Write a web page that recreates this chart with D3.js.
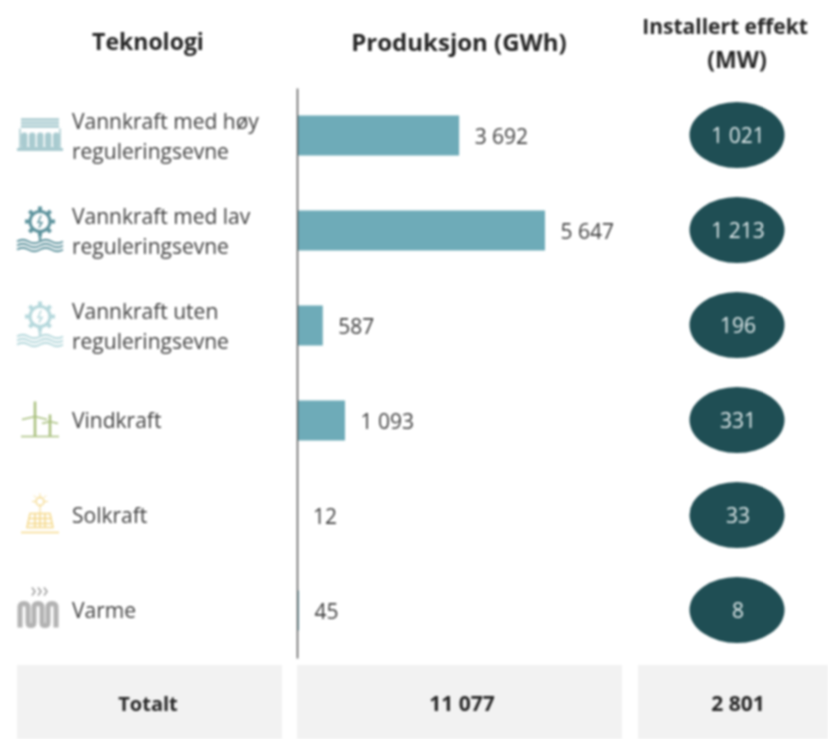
<!DOCTYPE html>
<html>
<head>
<meta charset="utf-8">
<script src="https://d3js.org/d3.v7.min.js"></script>
<style>
  body { margin: 0; background: #fff; }
  svg { display: block; filter: blur(1.1px); }
  text { font-family: "Open Sans", sans-serif; }
</style>
</head>
<body>
<div id="chart"></div>
<script>
// 1. Data
const technologies = [
  ["Vannkraft med høy", "reguleringsevne"],
  ["Vannkraft med lav", "reguleringsevne"],
  ["Vannkraft uten", "reguleringsevne"],
  ["Vindkraft"],
  ["Solkraft"],
  ["Varme"],
]
const production = [3692, 5647, 587, 1093, 12, 45]
const capacity = [1021, 1213, 196, 331, 33, 8]
const iconTypes = ["dam", "gear", "gear", "wind", "sun", "heat"]
const iconColours = ["#a9cbd0", "#5f949e", "#b5d8dc", "#a9c07f", "#f5d98c", "#9a9a9a"]
const totals = ["Totalt", "11 077", "2 801"]

// 2. Dimensions
const width = 828
const height = 739
const fmt = v => d3.format(",")(v).replace(/,/g, " ")

const wrapper = d3.select("#chart").append("svg")
  .attr("width", width)
  .attr("height", height)

const yScale = d3.scaleBand()
  .domain(d3.range(technologies.length))
  .range([88, 658])

const xScale = d3.scaleLinear()
  .domain([0, d3.max(production)])
  .range([297, 545])

const cy = i => yScale(i) + yScale.bandwidth() / 2

// 3. Headers
const headers = wrapper.append("g")
  .attr("font-weight", 700)
  .attr("fill", "#262626")
  .attr("text-anchor", "middle")
headers.append("text").attr("x", 148).attr("y", 50).attr("font-size", 23).text("Teknologi")
headers.append("text").attr("x", 459).attr("y", 51).attr("font-size", 24).text("Produksjon (GWh)")
headers.append("text").attr("x", 725).attr("y", 34).attr("font-size", 21).text("Installert effekt")
headers.append("text").attr("x", 737).attr("y", 68).attr("font-size", 23).text("(MW)")

// 4. Bars
const rows = wrapper.selectAll("g.row")
  .data(production)
  .enter().append("g")
    .attr("class", "row")

rows.append("rect")
  .attr("x", xScale(0))
  .attr("y", (d, i) => cy(i) - 20)
  .attr("width", d => xScale(d) - xScale(0))
  .attr("height", 40)
  .attr("fill", "#6eabb8")

rows.append("text")
  .attr("x", d => xScale(d) + 15.5)
  .attr("y", (d, i) => cy(i) + 8)
  .attr("font-size", 21)
  .attr("fill", "#404040")
  .text(fmt)

// axis line
const yAxis = d3.axisLeft(yScale).tickValues([]).tickSize(0).tickSizeOuter(0)
wrapper.append("g")
  .attr("transform", `translate(${xScale(0)},0)`)
  .call(yAxis)
  .select(".domain")
    .attr("stroke", "#595959")
    .attr("stroke-width", 1.5)

// 5. Capacity ellipses
const bubbles = wrapper.selectAll("g.bubble")
  .data(capacity)
  .enter().append("g")
    .attr("class", "bubble")
    .attr("transform", (d, i) => `translate(737,${cy(i) - 0.5})`)

bubbles.append("ellipse")
  .attr("rx", 47.5)
  .attr("ry", 33)
  .attr("fill", "#1f4e54")

bubbles.append("text")
  .attr("x", 1)
  .attr("y", 8)
  .attr("text-anchor", "middle")
  .attr("font-size", 21)
  .attr("fill", "#dfe9ea")
  .text(fmt)

// 6. Technology labels
const labels = wrapper.selectAll("text.tech")
  .data(technologies)
  .enter().append("text")
    .attr("class", "tech")
    .attr("font-size", 21)
    .attr("fill", "#404040")
    .attr("y", (d, i) => cy(i) + (d.length > 1 ? -7 : 7))

labels.selectAll("tspan")
  .data(d => d)
  .enter().append("tspan")
    .attr("x", 72)
    .attr("dy", (d, i) => i ? 30 : 0)
    .text(d => d)

// 7. Icons
function waves(g, y, n) {
  for (let k = 0; k < n; k++) {
    g.append("path")
      .attr("d", `M-23,${y + k * 4} q5.75,-3.5 11.5,0 t11.5,0 t11.5,0 t11.5,0`)
      .attr("stroke-width", 1.8)
  }
}
function drawIcon(type, g) {
  if (type == "dam") {
    g.append("path").attr("d", "M-19,-16H19M-19,-12.5H19M-19,-9H19").attr("stroke-width", 2.5)
    g.append("path").attr("d", "M-20,-7V12H20V-7").attr("stroke-width", 1.5)
    d3.range(5).forEach(k => {
      g.append("rect")
        .attr("x", -19 + k * 8).attr("y", -3).attr("width", 6.5).attr("height", 15)
        .attr("rx", 3).attr("fill", "currentColor").attr("stroke", "none")
    })
    g.append("path").attr("d", "M-23,14H23").attr("stroke-width", 3)
  }
  if (type == "gear") {
    g.append("circle").attr("cy", -9).attr("r", 10).attr("stroke-width", 3)
    d3.range(8).forEach(k => {
      const a = k * Math.PI / 4
      g.append("line")
        .attr("x1", 10 * Math.cos(a)).attr("y1", -9 + 10 * Math.sin(a))
        .attr("x2", 15 * Math.cos(a)).attr("y2", -9 + 15 * Math.sin(a))
        .attr("stroke-width", 4)
    })
    g.append("path").attr("d", "M1,-15L-2,-8H2L-1,-3").attr("stroke-width", 1.5)
    g.append("path").attr("d", "M0,6V10").attr("stroke-width", 2.5)
    waves(g, 11, 3)
  }
  if (type == "wind") {
    g.append("path").attr("d", "M-5,-19V16").attr("stroke-width", 2.5)
    g.append("path").attr("d", "M-18,-1L-5,-4L7,-1").attr("stroke-width", 1.5)
    g.append("path").attr("d", "M10,-6V16").attr("stroke-width", 2.5)
    g.append("path").attr("d", "M2,3L10,1L18,3").attr("stroke-width", 1.5)
    g.append("path").attr("d", "M-19,16H19").attr("stroke-width", 1.5)
  }
  if (type == "sun") {
    g.append("circle").attr("cy", -14).attr("r", 4).attr("stroke-width", 1.5)
    g.append("path").attr("d", "M0,-22V-19M-8,-14H-5M5,-14H8M-6,-20L-4,-18M6,-20L4,-18M0,-10V-2").attr("stroke-width", 1)
    g.append("path").attr("d", "M-10,-2H10L13,12H-13ZM-11,3H11M-12,8H12M-5,-2V12M0,-2V12M5,-2V12").attr("stroke-width", 1.5)
    g.append("path").attr("d", "M-19,17H19").attr("stroke-width", 1.5)
  }
  if (type == "heat") {
    g.append("path").attr("d", "M-8,-23l3,4l-3,4M-2,-23l3,4l-3,4M4,-23l3,4l-3,4").attr("stroke-width", 1.4)
    g.append("path").attr("d", "M-20,17V-3q0,-4 4,-4t4,4V12q0,3 3,3t3,-3V-3q0,-4 4,-4t4,4V12q0,3 3,3t3,-3V-3q0,-4 4,-4t4,4V17")
      .attr("stroke-width", 5).attr("stroke-opacity", 0.75)
  }
}

wrapper.selectAll("g.icon")
  .data(iconTypes)
  .enter().append("g")
    .attr("class", "icon")
    .attr("transform", (d, i) => `translate(40,${cy(i)})`)
    .style("color", (d, i) => iconColours[i])
    .attr("fill", "none")
    .attr("stroke", "currentColor")
    .each(function(d) { drawIcon(d, d3.select(this)) })

// 8. Totals row
const totalBoxes = [[17, 265], [297, 325], [638, 190]]
const totalCentres = [148, 462, 738]
const totalFontSizes = [20, 21, 21]
const totalRow = wrapper.selectAll("g.total")
  .data(totals)
  .enter().append("g")
    .attr("class", "total")

totalRow.append("rect")
  .attr("x", (d, i) => totalBoxes[i][0])
  .attr("y", 665)
  .attr("width", (d, i) => totalBoxes[i][1])
  .attr("height", 74)
  .attr("fill", "#f2f2f2")

totalRow.append("text")
  .attr("x", (d, i) => totalCentres[i])
  .attr("y", 711)
  .attr("text-anchor", "middle")
  .attr("font-weight", 700)
  .attr("font-size", (d, i) => totalFontSizes[i])
  .attr("fill", "#262626")
  .text(d => d)
</script>
</body>
</html>
